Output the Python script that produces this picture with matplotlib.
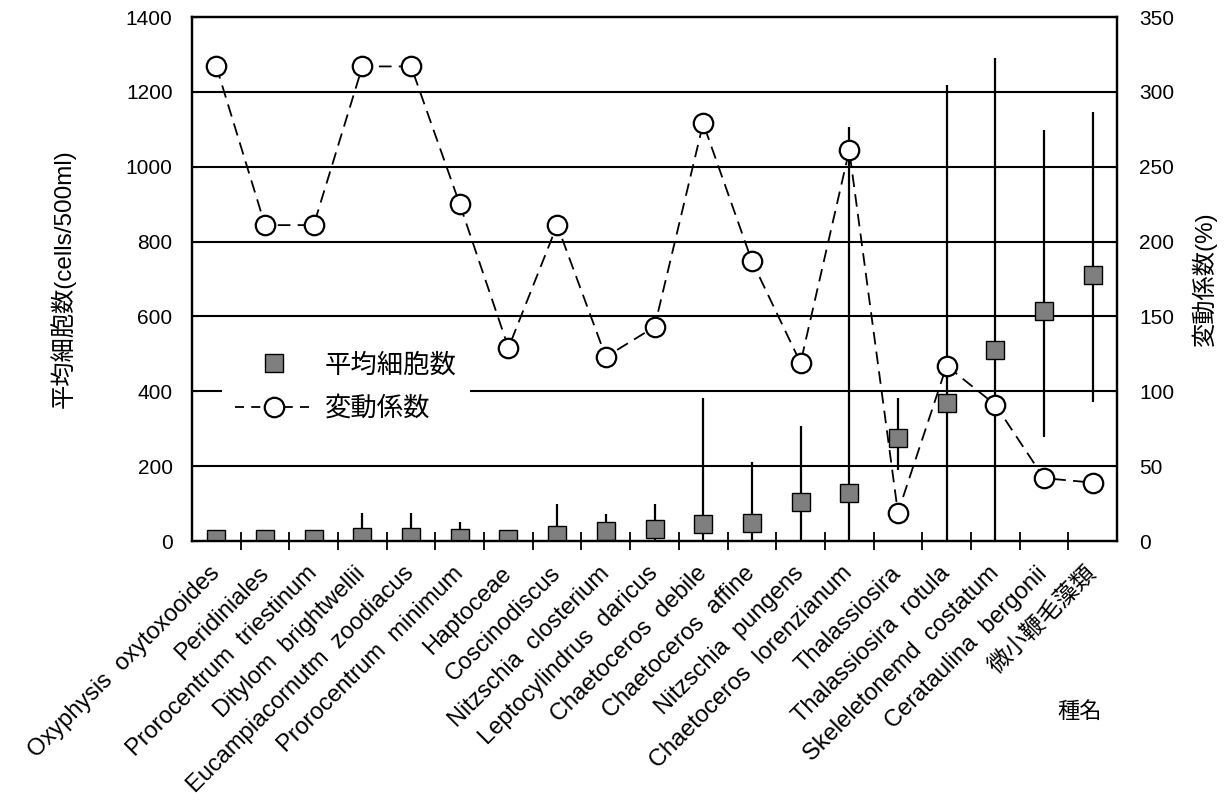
import matplotlib
matplotlib.use('Agg')
import matplotlib.pyplot as plt
import matplotlib.transforms as mtransforms
from matplotlib.lines import Line2D
import numpy as np

plt.rcParams['font.family'] = ['Liberation Sans', 'Noto Sans CJK JP']

# ---------------------------------------------------------------
# Datos
# ---------------------------------------------------------------
especies = ['Oxyphysis  oxytoxooides', 'Peridiniales', 'Prorocentrum  triestinum',
            'Ditylom  brightwellii', 'Eucampiacornutm  zoodiacus', 'Prorocentrum  minimum',
            'Haptoceae', 'Coscinodiscus', 'Nitzschia  closterium', 'Leptocylindrus  daricus',
            'Chaetoceros  debile', 'Chaetoceros  affine', 'Nitzschia  pungens',
            'Chaetoceros  lorenzianum', 'Thalassiosira', 'Thalassiosira  rotula',
            'Skeleletonemd  costatum', 'Cerataulina  bergonii', '微小鞭毛藻類']

media = [5, 5, 5, 12, 12, 8, 6, 15, 27, 33, 45, 47, 104, 128, 275, 370, 510, 614, 710]
err_sup = [5, 5, 5, 75, 75, 50, 8, 100, 72, 100, 382, 211, 307, 1105, 382, 1218, 1290, 1098, 1146]
err_inf = [0, 0, 0, 0, 0, 0, 0, 0, 0, 0, 0, 0, 0, 0, 190, 0, 0, 279, 372]

cv = [317, 211, 211, 317, 317, 225, 129, 211, 123, 143, 279, 187, 119, 261, 19, 117, 91, 42, 39]

# ---------------------------------------------------------------
# Figura
# ---------------------------------------------------------------
fig = plt.figure(figsize=(12.26, 8.07), dpi=100)
ax = fig.add_axes([0.1566, 0.3296, 0.7545, 0.6493])
ax2 = ax.twinx()

x = np.arange(len(especies))

# barras de erro (min-max)
ax.vlines(x, err_inf, err_sup, color='black', lw=1.6, zorder=2)
ax.plot(x, media, 's', ms=13, mfc='#7f7f7f', mec='black', mew=1.0, zorder=3, label='平均細胞数')

for v in range(200, 1400, 200):
    ax.axhline(v, color='black', lw=1.5, zorder=1)

ax.set_ylim(0, 1400)
ax.set_yticks(range(0, 1401, 200))
ax.set_xlim(-0.5, len(especies) - 0.5)
ax.set_xticks(x)
ax.set_xticklabels(especies, rotation=45, ha='right', va='center', rotation_mode='anchor', fontsize=17)
desloc = mtransforms.ScaledTranslation(-9 / 100, 0, fig.dpi_scale_trans)
for lab in ax.get_xticklabels():
    lab.set_transform(lab.get_transform() + desloc)
ax.set_xticks(np.arange(0.5, len(especies) - 0.5, 1), minor=True)
ax.tick_params(axis='x', which='major', length=0, pad=21)
ax.tick_params(axis='x', which='minor', length=13, direction='inout', width=1.3)
ax.tick_params(axis='y', direction='in', length=4, labelsize=15, pad=14)
ax.set_ylabel('平均細胞数(cells/500ml)', fontsize=17.5, labelpad=36)

ax2.plot(x, cv, '--', color='black', lw=1.3, dashes=(7, 4), marker='o', ms=14,
         mfc='white', mec='black', mew=1.6, zorder=4, label='変動係数')
ax2.set_ylim(0, 350)
ax2.set_yticks(range(0, 351, 50))
ax2.tick_params(axis='y', direction='in', length=4, labelsize=15, pad=16)
ax2.set_ylabel('変動係数(%)', fontsize=17.5, labelpad=12)

for a in (ax, ax2):
    for s in a.spines.values():
        s.set_linewidth(1.6)

h1 = Line2D([], [], ls='none', marker='s', ms=13, mfc='#7f7f7f', mec='black', mew=1.0)
h2 = Line2D([], [], ls='--', dashes=(5, 4), color='black', lw=1.3, marker='o', ms=14,
            mfc='white', mec='black', mew=1.6)
leg = ax2.legend([h1, h2], ['平均細胞数', '変動係数'], loc='upper left',
                 bbox_to_anchor=(0.032, 0.384), fontsize=19, handlelength=3.0,
                 handletextpad=0.4, labelspacing=0.7, frameon=True, fancybox=False,
                 borderpad=0.5, borderaxespad=0)
leg.get_frame().set_edgecolor('none')
leg.get_frame().set_facecolor('white')
leg.get_frame().set_alpha(1)

fig.text(1080 / 1226, 1 - 712 / 807, '種名', fontsize=16, ha='center', va='center')

plt.savefig('out.png', dpi=100)
